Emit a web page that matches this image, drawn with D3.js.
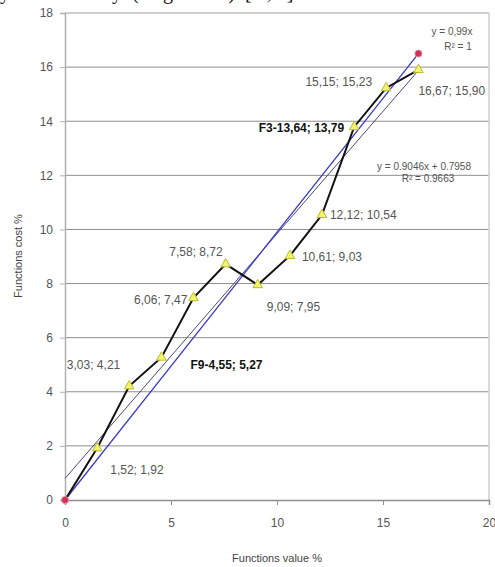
<!DOCTYPE html>
<html lang="en">
<head>
  <meta charset="UTF-8">
  <title>Functions value vs cost</title>
  <script src="https://d3js.org/d3.v7.min.js"></script>
  <style>
    body { margin: 0; background: #fff; }
    svg text { font-family: "Liberation Sans", Arial, sans-serif; }
  </style>
</head>
<body>
  <svg id="chart" width="495" height="567"></svg>

  <script>
    // functions: value % (x) and cost % (y)
    const valuePct = [0, 1.52, 3.03, 4.55, 6.06, 7.58, 9.09, 10.61, 12.12, 13.64, 15.15, 16.67];
    const costPct  = [0, 1.92, 4.21, 5.27, 7.47, 8.72, 7.95, 9.03, 10.54, 13.79, 15.23, 15.90];
    const pointLabels = ["", "1,52; 1,92", "3,03; 4,21", "F9-4,55; 5,27", "6,06; 7,47", "7,58; 8,72",
                         "9,09; 7,95", "10,61; 9,03", "12,12; 10,54", "F3-13,64; 13,79", "15,15; 15,23", "16,67; 15,90"];
    const boldLabels = ["F9-4,55; 5,27", "F3-13,64; 13,79"];

    // ideal line (red points) y = 0,99x
    const idealX = [0, 16.67];
    const idealY = [0, 16.5];

    // linear trend of the functions
    const trendSlope = 0.9046;
    const trendIntercept = 0.7958;

    const xTicks = [0, 5, 10, 15, 20];
    const yTicks = [0, 2, 4, 6, 8, 10, 12, 14, 16, 18];

    // label placement relative to each point: [dx, dy, anchor]
    const labelPos = [null, [13, 26, "start"], [-9, -17, "end"], [29, 12, "start"], [-6, 6, "end"],
                      [-3, -8, "end"], [9, 26, "start"], [12, 5, "start"], [8, 4, "start"],
                      [-10, 5, "end"], [-14, -2, "end"], [0, 25, "start"]];

    const svg = d3.select("#chart");
    const x = d3.scaleLinear().domain([0, 20]).range([65, 489]);
    const y = d3.scaleLinear().domain([0, 18]).range([500, 13]);

    // clipped caption line from the page above the figure
    svg.append("text").attr("x", 0).attr("y", -1)
      .style("font-family", "'Liberation Serif', serif").style("font-size", "20px").attr("fill", "#111")
      .text("y");
    svg.append("text").attr("x", 104).attr("y", -1)
      .style("font-family", "'Liberation Serif', serif").style("font-size", "20px").attr("fill", "#111")
      .attr("letter-spacing", "2.5px")
      .text("ly (Figure 4) [2,4]");

    // grid lines
    svg.append("g").selectAll("line").data(yTicks.filter(d => d > 0)).join("line")
      .attr("x1", x(0)).attr("x2", x(20))
      .attr("y1", d => y(d)).attr("y2", d => y(d))
      .attr("stroke", d => d === 18 ? "#cfcfcf" : "#8e8e8e")
      .attr("stroke-width", d => d === 18 ? 2 : 1);

    // right frame edge
    svg.append("line").attr("x1", x(20)).attr("x2", x(20)).attr("y1", y(18)).attr("y2", y(0))
      .attr("stroke", "#cfcfcf").attr("stroke-width", 1.5);

    // y axis
    const yAxis = svg.append("g").attr("transform", `translate(${x(0)},0)`)
      .call(d3.axisLeft(y).tickValues(yTicks).tickSize(5).tickPadding(7));
    yAxis.select(".domain").attr("stroke", "#b0b0b0").attr("stroke-width", 1.5);
    yAxis.selectAll(".tick line").attr("stroke", "#b0b0b0");
    yAxis.selectAll(".tick text").attr("fill", "#555").style("font-size", "12px")
      .style("font-family", "'Liberation Sans', Arial, sans-serif");

    // x axis
    const xAxis = svg.append("g").attr("transform", `translate(0,${y(0)})`)
      .call(d3.axisBottom(x).tickValues(xTicks).tickSize(5).tickPadding(13));
    xAxis.select(".domain").attr("stroke", "#8e8e8e").attr("stroke-width", 1.5);
    xAxis.selectAll(".tick line").attr("stroke", "#8e8e8e");
    xAxis.selectAll(".tick text").attr("fill", "#555").style("font-size", "12px")
      .style("font-family", "'Liberation Sans', Arial, sans-serif");

    // axis titles
    svg.append("text").attr("x", 277).attr("y", 562).attr("text-anchor", "middle")
      .attr("fill", "#444").style("font-size", "11px").text("Functions value %");
    svg.append("text").attr("transform", "translate(22,256) rotate(-90)").attr("text-anchor", "middle")
      .attr("fill", "#444").style("font-size", "11px").text("Functions cost %");

    // trend line of the functions
    const trendX = [0, d3.max(valuePct)];
    svg.append("line")
      .attr("x1", x(trendX[0])).attr("y1", y(trendSlope * trendX[0] + trendIntercept))
      .attr("x2", x(trendX[1])).attr("y2", y(trendSlope * trendX[1] + trendIntercept))
      .attr("stroke", "#4a4a78").attr("stroke-width", 1);

    // ideal line
    const ideal = idealX.map((v, i) => [v, idealY[i]]);
    svg.append("path").datum(ideal)
      .attr("d", d3.line().x(d => x(d[0])).y(d => y(d[1])))
      .attr("fill", "none").attr("stroke", "#3b3bc4").attr("stroke-width", 1.3);

    // functions line
    const pts = valuePct.map((v, i) => ({ v: v, c: costPct[i], label: pointLabels[i], pos: labelPos[i] }));
    svg.append("path").datum(pts)
      .attr("d", d3.line().x(d => x(d.v)).y(d => y(d.c)))
      .attr("fill", "none").attr("stroke", "#111").attr("stroke-width", 2);

    // triangle markers
    const tri = d3.symbol().type(d3.symbolTriangle).size(40);
    svg.append("g").selectAll("path").data(pts.slice(1)).join("path")
      .attr("d", tri)
      .attr("transform", d => `translate(${x(d.v)},${y(d.c)})`)
      .attr("fill", "#f4f46a").attr("stroke", "#b9b93a").attr("stroke-width", 1);

    // red ideal points
    svg.append("g").selectAll("circle").data(ideal).join("circle")
      .attr("cx", d => x(d[0])).attr("cy", d => y(d[1])).attr("r", 3.5)
      .attr("fill", "#cc3355").attr("stroke", "#e88aa0").attr("stroke-width", 1);

    // point labels
    svg.append("g").selectAll("text").data(pts.slice(1)).join("text")
      .attr("x", d => x(d.v) + d.pos[0])
      .attr("y", d => y(d.c) + d.pos[1])
      .attr("text-anchor", d => d.pos[2])
      .attr("fill", d => boldLabels.includes(d.label) ? "#111" : "#555")
      .style("font-weight", d => boldLabels.includes(d.label) ? "bold" : "normal")
      .style("font-size", "12px")
      .text(d => d.label);

    // equations
    svg.append("text").attr("x", 452).attr("y", 35).attr("text-anchor", "middle")
      .attr("fill", "#555").style("font-size", "10px").text("y = 0,99x");
    svg.append("text").attr("x", 458).attr("y", 50).attr("text-anchor", "middle")
      .attr("fill", "#555").style("font-size", "10px").text("R² = 1");
    svg.append("text").attr("x", 424).attr("y", 170).attr("text-anchor", "middle")
      .attr("fill", "#555").style("font-size", "10px").text("y = 0.9046x + 0.7958");
    svg.append("text").attr("x", 428).attr("y", 182).attr("text-anchor", "middle")
      .attr("fill", "#555").style("font-size", "10px").text("R² = 0.9663");
  </script>
</body>
</html>
